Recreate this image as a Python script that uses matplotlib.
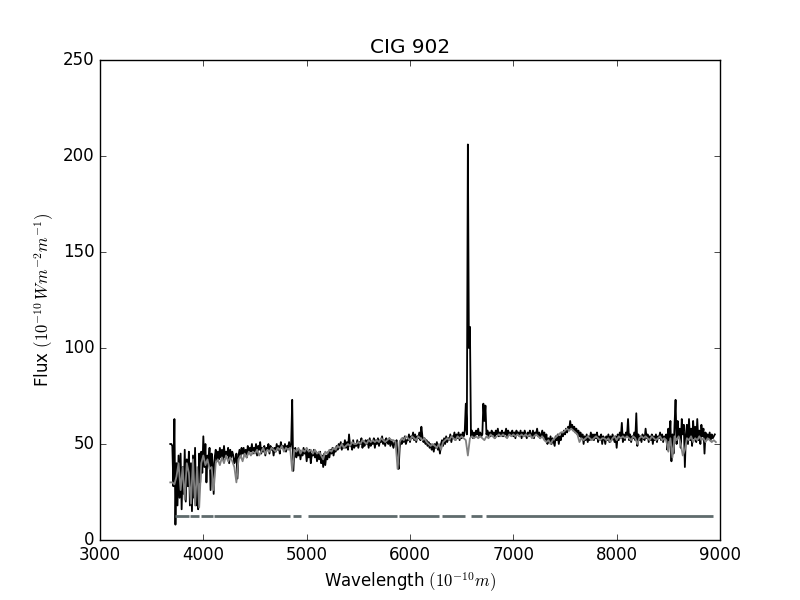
#!/usr/bin/env python3
"""CIG 902 spectrum with model fit and mask."""

import matplotlib
matplotlib.use('Agg')
import matplotlib.pyplot as plt
import numpy as np

# observed spectrum, 10 A sampling starting at 3680 A
OBS_START = 3680
OBS_STEP = 10
obs_flux = [
    50, 50, 49, 28, 63, 8, 40, 18, 44, 22,        # 3680
    45, 16, 38, 24, 47, 20, 42, 28, 46, 18,       # 3780
    40, 15, 44, 22, 48, 18, 36, 16, 45, 30,       # 3880
    46, 35, 54, 38, 50, 30, 44, 40, 48, 26,       # 3980
    45, 40, 24, 43, 47, 41, 46, 42, 48, 43,       # 4080
    47, 42, 49, 43, 46, 44, 48, 40, 47, 43,       # 4180
    46, 44, 40, 42, 45, 32, 44, 47, 43, 48,       # 4280
    45, 48, 44, 47, 43, 49, 45, 48, 46, 50,       # 4380
    45, 48, 46, 50, 44, 49, 47, 51, 45, 48,       # 4480
    46, 49, 44, 48, 47, 50, 45, 49, 47, 48,       # 4580
    44, 48, 46, 50, 47, 49, 45, 51, 48, 49,       # 4680
    47, 50, 46, 49, 48, 51, 47, 50, 73, 36,       # 4780
    45, 48, 43, 46, 44, 47, 42, 46, 44, 48,       # 4880
    45, 47, 41, 46, 43, 47, 40, 45, 44, 47,       # 4980
    43, 46, 41, 45, 42, 46, 40, 44, 38, 45,       # 5080
    39, 44, 42, 46, 43, 47, 45, 48, 44, 47,       # 5180
    46, 49, 47, 50, 48, 51, 47, 50, 48, 52,       # 5280
    48, 51, 47, 55, 49, 50, 47, 52, 48, 50,       # 5380
    49, 52, 48, 51, 50, 53, 48, 51, 49, 52,       # 5480
    50, 52, 48, 53, 49, 51, 50, 53, 48, 52,       # 5580
    50, 53, 49, 52, 51, 54, 50, 52, 49, 53,       # 5680
    51, 50, 53, 49, 52, 50, 48, 51, 50, 52,       # 5780
    42, 37, 48, 52, 50, 53, 51, 54, 50, 52,       # 5880
    52, 55, 51, 54, 53, 56, 52, 55, 51, 54,       # 5980
    53, 56, 52, 59, 54, 51, 53, 50, 52, 49,       # 6080
    51, 48, 50, 47, 49, 46, 50, 48, 51, 47,       # 6180
    49, 45, 50, 52, 49, 53, 50, 54, 51, 53,       # 6280
    52, 55, 51, 54, 53, 56, 52, 55, 53, 56,       # 6380
    52, 55, 53, 56, 54, 57, 71, 55, 206, 100,     # 6480
    111, 54, 57, 53, 56, 54, 57, 55, 58, 54,      # 6580
    56, 54, 55, 71, 62, 70, 55, 57, 54, 56,       # 6680
    54, 57, 55, 56, 53, 57, 55, 58, 54, 56,       # 6780
    55, 57, 54, 56, 55, 58, 54, 57, 55, 56,       # 6880
    55, 57, 54, 56, 53, 57, 55, 56, 54, 57,       # 6980
    53, 56, 54, 57, 55, 53, 56, 54, 57, 55,       # 7080
    54, 57, 53, 56, 55, 58, 54, 56, 53, 55,       # 7180
    57, 54, 56, 52, 55, 50, 53, 51, 54, 50,       # 7280
    53, 51, 49, 54, 52, 55, 50, 54, 52, 56,       # 7380
    54, 57, 55, 58, 56, 59, 57, 62, 58, 60,       # 7480
    57, 59, 56, 58, 55, 57, 54, 56, 53, 55,       # 7580
    50, 54, 52, 55, 51, 54, 52, 56, 53, 55,       # 7680
    52, 55, 53, 56, 51, 54, 52, 55, 50, 54,       # 7780
    53, 50, 54, 52, 55, 51, 54, 52, 55, 53,       # 7880
    51, 54, 48, 55, 52, 56, 53, 61, 51, 55,       # 7980
    52, 56, 54, 63, 52, 55, 51, 54, 53, 56,       # 8080
    52, 66, 49, 55, 52, 54, 51, 55, 53, 52,       # 8180
    58, 53, 55, 51, 54, 52, 55, 50, 54, 52,       # 8280
    55, 51, 54, 53, 56, 52, 55, 51, 54, 53,       # 8380
    55, 47, 58, 52, 62, 41, 55, 45, 60, 73,       # 8480
    50, 62, 54, 58, 48, 63, 55, 60, 38, 55,       # 8580
    60, 50, 63, 52, 58, 49, 62, 53, 59, 51,       # 8680
    63, 52, 57, 50, 60, 54, 58, 45, 56, 52,       # 8780
    55, 53, 56, 52, 55, 53, 54, 55,               # 8880
]

# model fit, 20 A sampling starting at 3680 A
MOD_START = 3680
MOD_STEP = 20
model_flux = [
    30, 30, 29, 33, 40, 26, 38, 21, 40, 35,       # 3680
    19, 42, 18, 38, 17, 40, 44, 39, 42, 37,       # 3880
    38, 26, 40, 42, 39, 43, 40, 44, 41, 43,       # 4080
    41, 38, 30, 42, 44, 41, 45, 43, 46, 44,       # 4280
    46, 45, 47, 44, 46, 48, 45, 47, 46, 48,       # 4480
    47, 46, 48, 47, 49, 46, 48, 47, 48, 36,       # 4680
    47, 46, 48, 45, 47, 46, 48, 46, 47, 45,       # 4880
    47, 45, 46, 44, 42, 46, 45, 47, 46, 48,       # 5080
    47, 49, 48, 50, 48, 49, 50, 49, 51, 50,       # 5280
    50, 51, 50, 52, 51, 50, 52, 51, 52, 51,       # 5480
    52, 51, 53, 52, 51, 52, 53, 52, 52, 51,       # 5680
    37, 51, 53, 52, 54, 53, 52, 54, 53, 52,       # 5880
    54, 53, 52, 53, 51, 50, 49, 50, 49, 48,       # 6080
    50, 47, 51, 52, 53, 52, 54, 53, 52, 54,       # 6280
    53, 54, 53, 52, 44, 53, 54, 53, 54, 53,       # 6480
    54, 53, 52, 54, 53, 55, 54, 53, 54, 55,       # 6680
    54, 55, 54, 53, 55, 54, 55, 54, 55, 54,       # 6880
    55, 54, 55, 54, 55, 53, 54, 55, 54, 53,       # 7080
    54, 52, 51, 52, 50, 52, 53, 54, 55, 56,       # 7280
    56, 57, 58, 57, 58, 57, 56, 55, 51, 53,       # 7480
    52, 53, 54, 53, 52, 53, 54, 53, 52, 53,       # 7680
    53, 52, 53, 51, 53, 54, 52, 54, 53, 54,       # 7880
    53, 54, 53, 52, 54, 53, 50, 53, 54, 53,       # 8080
    54, 53, 52, 54, 53, 52, 53, 54, 52, 53,       # 8280
    52, 46, 53, 43, 54, 52, 54, 50, 44, 47,       # 8480
    53, 52, 54, 51, 53, 52, 54, 52, 53, 51,       # 8680
    53, 52, 51, 52, 51,                           # 8880
]

# fitted wavelength windows (gaps = masked emission lines)
mask_start = [3726, 3872, 3974, 4107, 4868, 5013, 5896, 6309, 6587, 6735]
mask_end = [3860, 3962, 4095, 4839, 4945, 5871, 6277, 6529, 6697, 8928]
mask_level = 12.5

plt.style.use('classic')
fig, ax = plt.subplots(figsize=(8, 6), dpi=100)
fig.patch.set_facecolor('white')

obs_wave = OBS_START + OBS_STEP * np.arange(len(obs_flux))
mod_wave = MOD_START + MOD_STEP * np.arange(len(model_flux))

ax.plot(obs_wave, obs_flux, color='black', lw=1.3)
ax.plot(mod_wave, model_flux, color='#808080', lw=1.3)
ax.hlines([mask_level] * len(mask_start), mask_start, mask_end,
          color='#5f6b6d', lw=2)

ax.set_xlim(3000, 9000)
ax.set_ylim(0, 250)
ax.set_title('CIG 902')
ax.set_xlabel(r'Wavelength $(10^{-10}m)$')
ax.set_ylabel(r'Flux $(10^{-10}\,W m^{-2} m^{-1})$')

fig.savefig('out.png', dpi=100, facecolor='white')
plt.close()
